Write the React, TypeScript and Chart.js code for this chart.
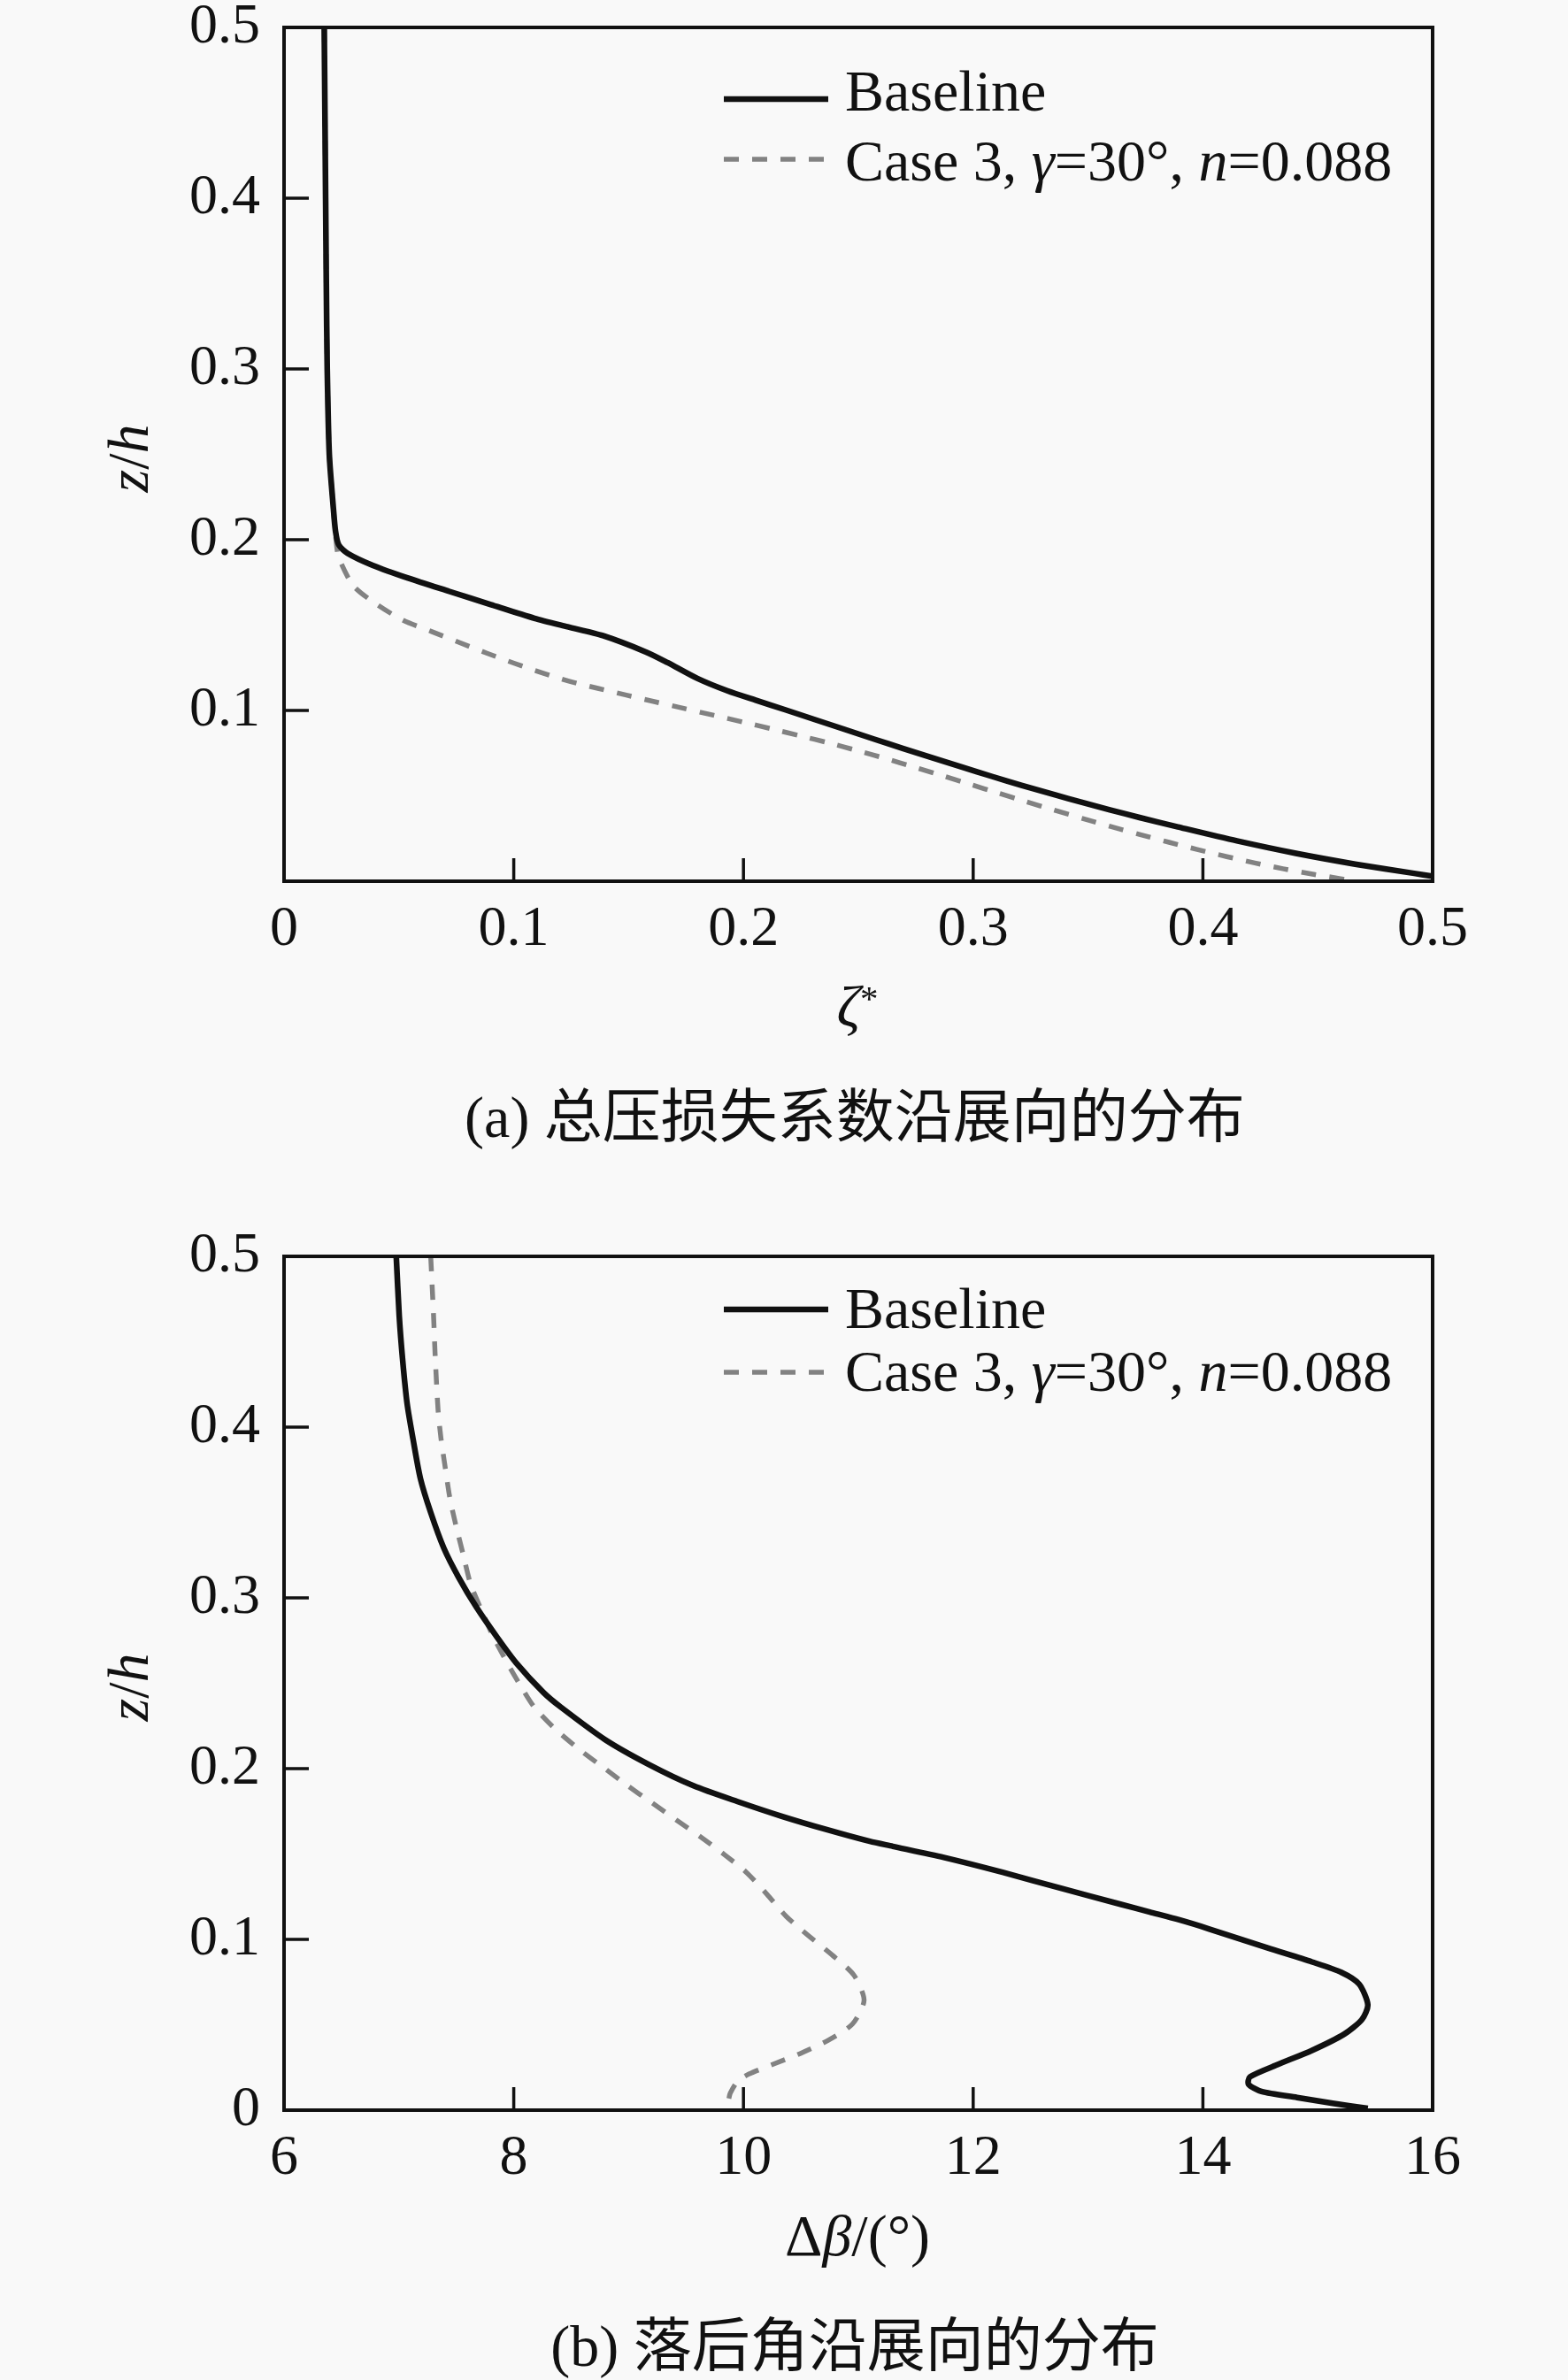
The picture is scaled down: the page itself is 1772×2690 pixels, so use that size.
import { useEffect, useRef } from 'react'
import { Chart, registerables } from 'chart.js'
import type { Plugin } from 'chart.js'

Chart.register(...registerables)

// (a) total pressure loss coefficient along the span: z/h vs ζ*
const lossBaseZ = [0.5, 0.45, 0.4, 0.35, 0.3, 0.25, 0.218, 0.205, 0.197, 0.192, 0.185, 0.1775, 0.1697, 0.162, 0.154, 0.149, 0.1438, 0.134, 0.128, 0.1187, 0.1115, 0.106, 0.1004, 0.0947, 0.089, 0.0833, 0.0777, 0.0722, 0.0668, 0.0614, 0.0562, 0.0504, 0.0464, 0.0418, 0.0373, 0.0318, 0.0236, 0.0163, 0.01, 0.0046, 0.003]
const lossBaseXi = [0.0175, 0.0178, 0.0181, 0.0184, 0.0188, 0.0197, 0.0215, 0.0224, 0.0238, 0.0277, 0.0386, 0.054, 0.072, 0.09, 0.109, 0.1234, 0.1388, 0.158, 0.167, 0.18, 0.193, 0.2053, 0.2182, 0.231, 0.2439, 0.2567, 0.2696, 0.2824, 0.2953, 0.3081, 0.321, 0.336, 0.3467, 0.3595, 0.3724, 0.3891, 0.4148, 0.4405, 0.4663, 0.492, 0.4997]
const lossCaseZ = [0.5, 0.45, 0.4, 0.35, 0.3, 0.25, 0.218, 0.2, 0.1896, 0.173, 0.162, 0.1527, 0.1462, 0.14, 0.1337, 0.1276, 0.122, 0.1172, 0.1128, 0.109, 0.1049, 0.1012, 0.0972, 0.0933, 0.0894, 0.0852, 0.0809, 0.0767, 0.0718, 0.067, 0.0619, 0.0568, 0.0517, 0.0466, 0.0417, 0.0366, 0.0322, 0.0274, 0.0228, 0.0186, 0.0144, 0.0107, 0.0073, 0.004, 0.0015, 0.0005]
const lossCaseXi = [0.0175, 0.0178, 0.0181, 0.0184, 0.0188, 0.0197, 0.0215, 0.0226, 0.0238, 0.0302, 0.0405, 0.052, 0.0643, 0.0759, 0.088, 0.1003, 0.1125, 0.124, 0.137, 0.149, 0.162, 0.174, 0.187, 0.1995, 0.2117, 0.2246, 0.2374, 0.249, 0.262, 0.274, 0.2863, 0.2985, 0.3107, 0.323, 0.3351, 0.348, 0.3595, 0.3724, 0.3853, 0.3975, 0.4104, 0.4226, 0.4348, 0.4483, 0.4599, 0.4636]

// (b) deviation angle along the span: z/h vs Δβ
const devBaseZ = [0.5, 0.465, 0.439, 0.4135, 0.393, 0.37, 0.35, 0.329, 0.312, 0.2945, 0.277, 0.262, 0.2445, 0.236, 0.217, 0.2023, 0.19, 0.1807, 0.1721, 0.1644, 0.1574, 0.1545, 0.148, 0.1393, 0.1298, 0.1206, 0.116, 0.1114, 0.1062, 0.095, 0.0868, 0.0807, 0.0738, 0.0617, 0.0531, 0.0445, 0.035, 0.0264, 0.0195, 0.0152, 0.0109, 0.0074, 0.004, 0.001]
const devBaseBeta = [6.977, 7.003, 7.033, 7.072, 7.123, 7.187, 7.277, 7.392, 7.52, 7.675, 7.854, 8.02, 8.26, 8.41, 8.795, 9.18, 9.564, 9.949, 10.333, 10.718, 11.1, 11.3, 11.744, 12.256, 12.77, 13.282, 13.538, 13.795, 14.05, 14.564, 14.95, 15.205, 15.36, 15.436, 15.385, 15.23, 14.95, 14.64, 14.41, 14.397, 14.51, 14.82, 15.13, 15.436]
const devCaseZ = [0.5, 0.465, 0.443, 0.41, 0.393, 0.3756, 0.3584, 0.3428, 0.3256, 0.3083, 0.2937, 0.2782, 0.2618, 0.248, 0.2359, 0.2225, 0.2109, 0.2006, 0.1902, 0.1799, 0.1695, 0.16, 0.1497, 0.1393, 0.1264, 0.1135, 0.1023, 0.091, 0.079, 0.0643, 0.0505, 0.041, 0.0333, 0.0272, 0.0212, 0.0169, 0.01, 0.0065]
const devCaseBeta = [7.277, 7.302, 7.315, 7.341, 7.367, 7.405, 7.444, 7.495, 7.559, 7.623, 7.713, 7.815, 7.944, 8.064, 8.18, 8.372, 8.577, 8.782, 8.987, 9.205, 9.423, 9.628, 9.833, 10.025, 10.205, 10.372, 10.564, 10.77, 10.962, 11.05, 10.95, 10.74, 10.5, 10.27, 10.05, 9.949, 9.885, 9.872]

// tick labels
const lossXTicks = ['0', '0.1', '0.2', '0.3', '0.4', '0.5']
const lossYTicks = ['', '0.1', '0.2', '0.3', '0.4', '0.5']
const devXTicks = ['6', '8', '10', '12', '14', '16']
const devYTicks = ['0', '0.1', '0.2', '0.3', '0.4', '0.5']

const seriesNames = ['Baseline', 'Case 3, γ=30°, n=0.088']

type Seg = { t: string; it?: boolean; sup?: boolean }

const legendText: Seg[][] = [
  [{ t: 'Baseline' }],
  [{ t: 'Case 3, ' }, { t: 'γ', it: true }, { t: '=30°, ' }, { t: 'n', it: true }, { t: '=0.088' }],
]

const ink = '#111111'
const paper = '#f9f9f9'
const serif = "'Liberation Serif', 'Times New Roman', serif"
const cjk = "'Liberation Serif', 'Noto Sans CJK SC', serif"

const lineStyles = [
  { color: ink, width: 6.5, dash: [] as number[] },
  { color: '#828282', width: 5.5, dash: [17, 15] },
]

function drawRich(ctx: CanvasRenderingContext2D, segs: Seg[], x: number, y: number, size: number, center: boolean) {
  const fontOf = (s: Seg) => `${s.it ? 'italic ' : ''}${s.sup ? Math.round(size * 0.62) : size}px ${serif}`
  let w = 0
  for (const s of segs) {
    ctx.font = fontOf(s)
    w += ctx.measureText(s.t).width
  }
  let cx = center ? x - w / 2 : x
  ctx.textAlign = 'left'
  ctx.textBaseline = 'alphabetic'
  for (const s of segs) {
    ctx.font = fontOf(s)
    ctx.fillText(s.t, cx, s.sup ? y - size * 0.28 : y)
    cx += ctx.measureText(s.t).width
  }
}

interface PanelProps {
  top: number
  xs: number[][]
  zs: number[][]
  xMin: number
  xMax: number
  xStep: number
  xTicks: string[]
  yTicks: string[]
  xTitle: Seg[]
  legendLineY: number[]
  legendTextY: number[]
  caption: string
}

function Panel({ top, xs, zs, xMin, xMax, xStep, xTicks, yTicks, xTitle, legendLineY, legendTextY, caption }: PanelProps) {
  const chartRef = useRef<HTMLCanvasElement>(null)

  useEffect(() => {
    if (!chartRef.current) return

    const decor: Plugin<'scatter'> = {
      id: 'decor',
      afterDraw(chart) {
        const { ctx, chartArea: a } = chart
        const sx = chart.scales.x
        const sy = chart.scales.y
        ctx.save()
        ctx.fillStyle = ink
        ctx.strokeStyle = ink

        // frame
        ctx.lineWidth = 4
        ctx.setLineDash([])
        ctx.strokeRect(a.left, a.top, a.right - a.left, a.bottom - a.top)

        // inward tick marks
        ctx.lineWidth = 3.5
        ctx.beginPath()
        sx.ticks.forEach((t) => {
          const px = sx.getPixelForValue(t.value)
          ctx.moveTo(px, a.bottom)
          ctx.lineTo(px, a.bottom - 26)
        })
        sy.ticks.forEach((t) => {
          const py = sy.getPixelForValue(t.value)
          ctx.moveTo(a.left, py)
          ctx.lineTo(a.left + 28, py)
        })
        ctx.stroke()

        // legend
        chart.data.datasets.forEach((ds, i) => {
          const st = lineStyles[i]
          ctx.strokeStyle = st.color
          ctx.lineWidth = st.width
          ctx.setLineDash(st.dash)
          ctx.beginPath()
          ctx.moveTo(818, legendLineY[i])
          ctx.lineTo(936, legendLineY[i])
          ctx.stroke()
          ctx.setLineDash([])
          drawRich(ctx, legendText[i] ?? [{ t: String(ds.label) }], 955, legendTextY[i], 66, false)
        })

        // axis titles
        drawRich(ctx, xTitle, 969, 1160, 66, true)
        ctx.translate(167, 518)
        ctx.rotate(-Math.PI / 2)
        drawRich(ctx, [{ t: 'z', it: true }, { t: '/' }, { t: 'h', it: true }], 0, 0, 66, true)
        ctx.restore()
      },
    }

    const tickFont = { family: serif, size: 64, lineHeight: 1 }

    const chart = new Chart(chartRef.current, {
      type: 'scatter',
      data: {
        datasets: xs.map((col, i) => ({
          label: seriesNames[i],
          data: col.map((x, k) => ({ x, y: zs[i][k] })),
          showLine: true,
          pointRadius: 0,
          borderColor: lineStyles[i].color,
          borderWidth: lineStyles[i].width,
          borderDash: lineStyles[i].dash,
          tension: 0.25,
          fill: false,
        })),
      },
      options: {
        animation: false,
        responsive: true,
        maintainAspectRatio: false,
        layout: { padding: { left: 0, top: 31, right: 153, bottom: 104 } },
        plugins: {
          legend: { display: false },
          tooltip: { enabled: false },
        },
        scales: {
          x: {
            type: 'linear',
            min: xMin,
            max: xMax,
            ticks: {
              stepSize: xStep,
              autoSkip: false,
              maxRotation: 0,
              padding: 15,
              color: ink,
              font: tickFont,
              callback: (_v, i) => xTicks[i],
            },
            grid: { display: false },
            border: { display: false },
            afterFit: (s) => {
              s.height = 100
              s.paddingLeft = 0
              s.paddingRight = 0
            },
          },
          y: {
            type: 'linear',
            min: 0,
            max: 0.5,
            ticks: {
              stepSize: 0.1,
              autoSkip: false,
              padding: 19,
              color: ink,
              font: tickFont,
              callback: (_v, i) => yTicks[i],
            },
            grid: { display: false },
            border: { display: false },
            afterFit: (s) => {
              s.width = 321
              s.paddingTop = 0
              s.paddingBottom = 0
            },
          },
        },
      },
      plugins: [decor],
    })

    return () => {
      chart.destroy()
    }
  }, [xs, zs, xMin, xMax, xStep, xTicks, yTicks, xTitle, legendLineY, legendTextY])

  return (
    <div style={{ position: 'absolute', left: 0, top, width: 1772, height: 1300 }}>
      <div style={{ position: 'absolute', left: 0, top: 0, width: 1772, height: 1200 }}>
        <canvas ref={chartRef}></canvas>
      </div>
      <div
        style={{
          position: 'absolute',
          left: 0,
          top: 1230,
          width: 1932,
          textAlign: 'center',
          fontFamily: cjk,
          fontSize: 66,
          lineHeight: '66px',
          color: ink,
          whiteSpace: 'nowrap',
        }}
      >
        {caption}
      </div>
    </div>
  )
}

const lossTitle: Seg[] = [{ t: 'ζ', it: true }, { t: '*', sup: true }]
const devTitle: Seg[] = [{ t: 'Δ' }, { t: 'β', it: true }, { t: '/(°)' }]

const lossXs = [lossBaseXi, lossCaseXi]
const lossZs = [lossBaseZ, lossCaseZ]
const devXs = [devBaseBeta, devCaseBeta]
const devZs = [devBaseZ, devCaseZ]

export default function App() {
  useEffect(() => {
    document.body.style.margin = '0'
    document.body.style.background = paper
  }, [])

  return (
    <div style={{ position: 'relative', width: 1772, height: 2690, background: paper, overflow: 'hidden' }}>
      <Panel
        top={0}
        xs={lossXs}
        zs={lossZs}
        xMin={0}
        xMax={0.5}
        xStep={0.1}
        xTicks={lossXTicks}
        yTicks={lossYTicks}
        xTitle={lossTitle}
        legendLineY={[112, 180]}
        legendTextY={[125, 204]}
        caption="(a) 总压损失系数沿展向的分布"
      />
      <Panel
        top={1389}
        xs={devXs}
        zs={devZs}
        xMin={6}
        xMax={16}
        xStep={2}
        xTicks={devXTicks}
        yTicks={devYTicks}
        xTitle={devTitle}
        legendLineY={[91, 162]}
        legendTextY={[112, 183]}
        caption="(b) 落后角沿展向的分布"
      />
    </div>
  )
}
